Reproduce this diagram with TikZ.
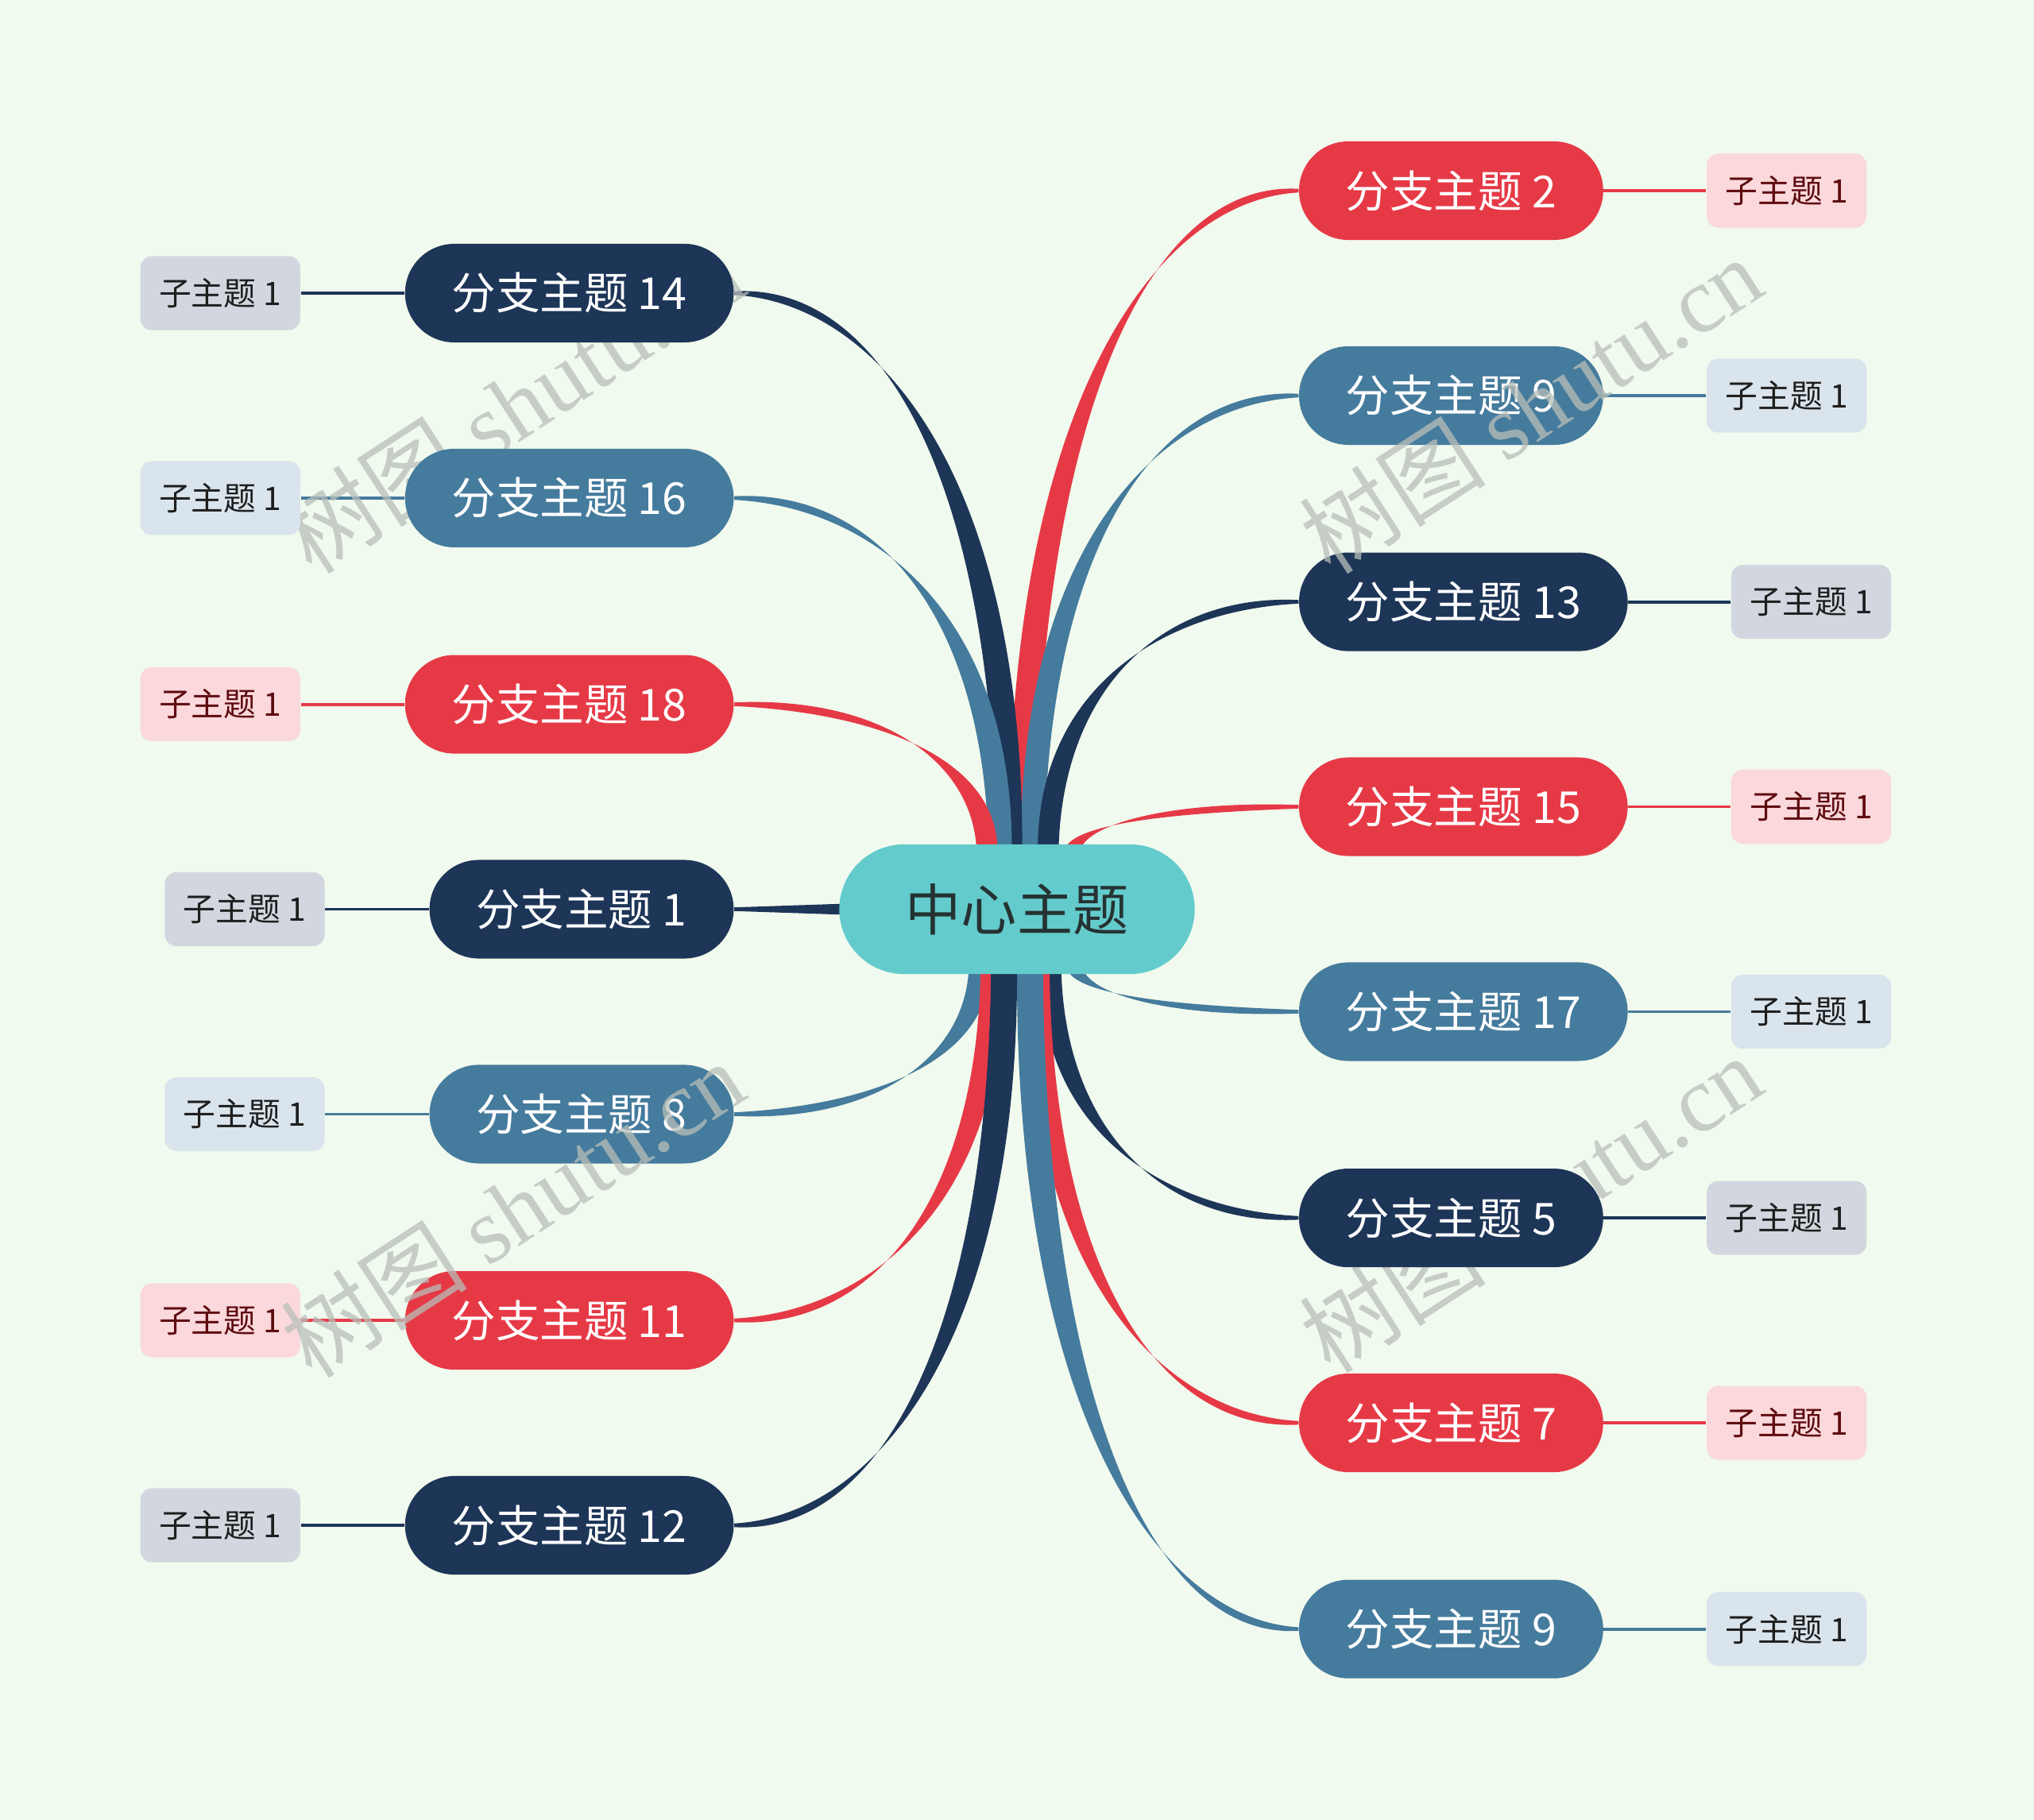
\documentclass[tikz,border=0pt]{standalone}
\usepackage{fontspec}
\setmainfont{Noto Sans CJK SC}
\newfontfamily\markfont{Liberation Serif}
\usetikzlibrary{positioning,calc}

\definecolor{navy}{HTML}{1D3557}
\definecolor{steel}{HTML}{457B9D}
\definecolor{berry}{HTML}{E63946}
\definecolor{aqua}{HTML}{63CBCC}
\definecolor{paper}{HTML}{F1FAEE}
\definecolor{navylight}{HTML}{D2D7DF}
\definecolor{steellight}{HTML}{DAE4EC}
\definecolor{berrylight}{HTML}{FAD8DB}
\definecolor{berrydark}{HTML}{5E0B10}
\definecolor{ink}{HTML}{1E1E1E}
\definecolor{rootink}{HTML}{263232}
\definecolor{mark}{HTML}{B8BFB9}

\pgfdeclarelayer{bg}
\pgfdeclarelayer{links}
\pgfdeclarelayer{marks}
\pgfsetlayers{bg,links,marks,main}

% tapered link: colour, branch end, centre end, x side, y side, half width at centre
\newcommand{\twig}[6]{%
  \fill[#1] let \p1=(#2), \p2=(#3) in
    (\x1,{\y1+(#5)*0.7pt})
    .. controls ({\x2+0.45*(\x1-\x2)},{\y1+(#5)*0.8*#6}) and ({\x2+(#4)*1.2*#6},{\y2+0.65*(\y1-\y2)})
    .. ({\x2+(#4)*#6},\y2)
    -- ({\x2-(#4)*#6},\y2)
    .. controls ({\x2-(#4)*1.2*#6},{\y2+0.65*(\y1-\y2)}) and ({\x2+0.45*(\x1-\x2)},{\y1-(#5)*0.8*#6})
    .. (\x1,{\y1-(#5)*0.7pt}) -- cycle;}

\begin{document}
\begin{tikzpicture}[
  x=0.5pt, y=-0.5pt,
  topic/.style={fill=aqua,text=rootink,rounded corners=25pt,minimum width=137pt,minimum height=50pt,font=\fontsize{21.5}{26}\selectfont},
  branch/.style={rounded corners=19pt,minimum height=38pt,inner xsep=18pt,inner ysep=0pt,text=white,font=\fontsize{17}{20}\selectfont},
  leaf/.style={rounded corners=4.5pt,minimum height=28.5pt,inner xsep=7.2pt,inner ysep=0pt,font=\fontsize{12.5}{15}\selectfont},
  wm/.style={rotate=33,text=mark,opacity=0.75,font=\fontsize{36}{40}\selectfont}
]
\begin{pgfonlayer}{bg}
\fill[paper] (0,0) rectangle (1568,1403);
\end{pgfonlayer}
% Centre
\node[topic] (root) at (784,701) {中心主题};
% Right column
\node[branch,fill=berry,anchor=west] (b2) at (1001,147) {分支主题 2};
\node[branch,fill=steel,anchor=west] (b9) at (1001,305) {分支主题 9};
\node[branch,fill=navy,anchor=west] (b13) at (1001,464) {分支主题 13};
\node[branch,fill=berry,anchor=west] (b15) at (1001,622) {分支主题 15};
\node[branch,fill=steel,anchor=west] (b17) at (1001,780) {分支主题 17};
\node[branch,fill=navy,anchor=west] (b5) at (1001,939) {分支主题 5};
\node[branch,fill=berry,anchor=west] (b7) at (1001,1097) {分支主题 7};
\node[branch,fill=steel,anchor=west] (b9x) at (1001,1256) {分支主题 9};
% Left column
\node[branch,fill=navy,anchor=east] (b14) at (566,226) {分支主题 14};
\node[branch,fill=steel,anchor=east] (b16) at (566,384) {分支主题 16};
\node[branch,fill=berry,anchor=east] (b18) at (566,543) {分支主题 18};
\node[branch,fill=navy,anchor=east] (b1) at (566,701) {分支主题 1};
\node[branch,fill=steel,anchor=east] (b8) at (566,859) {分支主题 8};
\node[branch,fill=berry,anchor=east] (b11) at (566,1018) {分支主题 11};
\node[branch,fill=navy,anchor=east] (b12) at (566,1176) {分支主题 12};
% Sub topics
\node[leaf,fill=berrylight,text=berrydark,right=39.5pt of b2] (s2) {子主题 1};
\node[leaf,fill=steellight,text=ink,right=39.5pt of b9] (s9) {子主题 1};
\node[leaf,fill=navylight,text=ink,right=39.5pt of b13] (s13) {子主题 1};
\node[leaf,fill=berrylight,text=berrydark,right=39.5pt of b15] (s15) {子主题 1};
\node[leaf,fill=steellight,text=ink,right=39.5pt of b17] (s17) {子主题 1};
\node[leaf,fill=navylight,text=ink,right=39.5pt of b5] (s5) {子主题 1};
\node[leaf,fill=berrylight,text=berrydark,right=39.5pt of b7] (s7) {子主题 1};
\node[leaf,fill=steellight,text=ink,right=39.5pt of b9x] (s9x) {子主题 1};
\node[leaf,fill=navylight,text=ink,left=40pt of b14] (s14) {子主题 1};
\node[leaf,fill=steellight,text=ink,left=40pt of b16] (s16) {子主题 1};
\node[leaf,fill=berrylight,text=berrydark,left=40pt of b18] (s18) {子主题 1};
\node[leaf,fill=navylight,text=ink,left=40pt of b1] (s1) {子主题 1};
\node[leaf,fill=steellight,text=ink,left=40pt of b8] (s8) {子主题 1};
\node[leaf,fill=berrylight,text=berrydark,left=40pt of b11] (s11) {子主题 1};
\node[leaf,fill=navylight,text=ink,left=40pt of b12] (s12) {子主题 1};
% Links
\begin{pgfonlayer}{links}
\twig{berry}{b2.west}{$(root.north)+(4,8)$}{1}{1}{5pt}
\twig{steel}{b9.west}{$(root.north)+(12,8)$}{1}{1}{4.5pt}
\twig{navy}{b13.west}{$(root.north)+(24,8)$}{1}{1}{4pt}
\twig{berry}{b15.west}{$(root.north)+(42,8)$}{1}{1}{3pt}
\twig{steel}{b17.west}{$(root.south)+(44,-8)$}{1}{-1}{3pt}
\twig{navy}{b5.west}{$(root.south)+(26,-8)$}{1}{-1}{4pt}
\twig{berry}{b7.west}{$(root.south)+(16,-8)$}{1}{-1}{4.5pt}
\twig{steel}{b9x.west}{$(root.south)+(10,-8)$}{1}{-1}{5pt}
\twig{navy}{b14.east}{$(root.north)+(-6,8)$}{-1}{1}{5pt}
\twig{steel}{b16.east}{$(root.north)+(-13,8)$}{-1}{1}{4.5pt}
\twig{berry}{b18.east}{$(root.north)+(-23,8)$}{-1}{1}{4pt}
\fill[navy] ($(b1.east)+(0,-1.4)$) -- ($(root.west)+(12,-4.5)$) -- ($(root.west)+(12,4.5)$) -- ($(b1.east)+(0,1.4)$) -- cycle;
\twig{steel}{b8.east}{$(root.south)+(-29,-8)$}{-1}{-1}{4pt}
\twig{berry}{b11.east}{$(root.south)+(-19,-8)$}{-1}{-1}{4.5pt}
\twig{navy}{b12.east}{$(root.south)+(-10,-8)$}{-1}{-1}{5pt}
\draw[berry,line width=1.2pt] (b2) -- (s2); \draw[steel,line width=1.2pt] (b9) -- (s9);
\draw[navy,line width=1.2pt] (b13) -- (s13); \draw[berry,line width=1.2pt] (b15) -- (s15);
\draw[steel,line width=1.2pt] (b17) -- (s17); \draw[navy,line width=1.2pt] (b5) -- (s5);
\draw[berry,line width=1.2pt] (b7) -- (s7); \draw[steel,line width=1.2pt] (b9x) -- (s9x);
\draw[navy,line width=1.2pt] (b14) -- (s14); \draw[steel,line width=1.2pt] (b16) -- (s16);
\draw[berry,line width=1.2pt] (b18) -- (s18); \draw[navy,line width=1.2pt] (b1) -- (s1);
\draw[steel,line width=1.2pt] (b8) -- (s8); \draw[berry,line width=1.2pt] (b11) -- (s11);
\draw[navy,line width=1.2pt] (b12) -- (s12);
\end{pgfonlayer}
% Watermarks (two of them sit behind the topics)
\begin{pgfonlayer}{marks}
\node[wm] (wm1) at (395,312) {树图 {\markfont shutu.cn}};
\node[wm] (wm4) at (1180,928) {树图 {\markfont shutu.cn}};
\end{pgfonlayer}
\node[wm] (wm2) at (1180,312) {树图 {\markfont shutu.cn}};
\node[wm] (wm3) at (395,932) {树图 {\markfont shutu.cn}};
\end{tikzpicture}
\end{document}
